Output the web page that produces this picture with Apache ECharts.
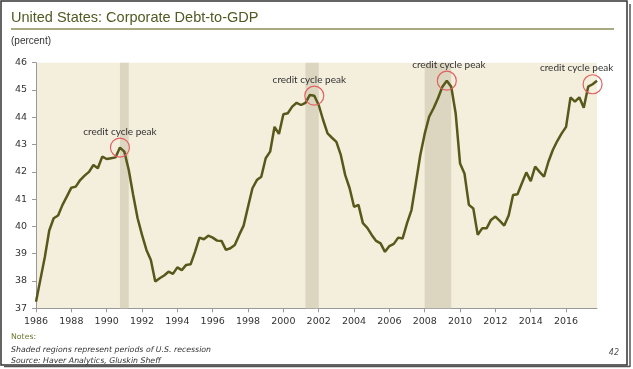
<!DOCTYPE html>
<html><head><meta charset="utf-8">
<script src="https://cdn.jsdelivr.net/npm/echarts@6/dist/echarts.min.js"></script>
<style>html,body{margin:0;padding:0;background:#fff}#c{width:633px;height:369px}</style>
</head><body><div id="c"></div>
<script>
// ---- data ----
const firstYear = 1986, lastYear = 2017;
const quarters = [];
for (let y = firstYear; y <= lastYear; y++) for (let q = 1; q <= 4; q++) quarters.push(y + 'Q' + q);

const debtToGdp = [
  37.24, 38.06, 38.88, 39.85,  // 1986
  40.30, 40.40, 40.79, 41.10,  // 1987
  41.42, 41.46, 41.70, 41.86,  // 1988
  42.00, 42.25, 42.13, 42.56,  // 1989
  42.47, 42.50, 42.53, 42.89,  // 1990
  42.74, 42.07, 41.15, 40.30,  // 1991
  39.69, 39.14, 38.77, 37.98,  // 1992
  38.10, 38.20, 38.34, 38.26,  // 1993
  38.50, 38.40, 38.59, 38.61,  // 1994
  39.07, 39.59, 39.53, 39.66,  // 1995
  39.59, 39.48, 39.47, 39.14,  // 1996
  39.20, 39.32, 39.69, 40.03,  // 1997
  40.72, 41.40, 41.70, 41.82,  // 1998
  42.50, 42.74, 43.65, 43.39,  // 1999
  44.11, 44.15, 44.39, 44.53,  // 2000
  44.45, 44.53, 44.82, 44.79,  // 2001
  44.45, 43.90, 43.41, 43.25,  // 2002
  43.10, 42.62, 41.88, 41.40,  // 2003
  40.72, 40.79, 40.12, 39.95,  // 2004
  39.69, 39.47, 39.38, 39.07,  // 2005
  39.28, 39.36, 39.59, 39.56,  // 2006
  40.12, 40.60, 41.60, 42.62,  // 2007
  43.40, 44.02, 44.33, 44.70,  // 2008
  45.12, 45.34, 45.12, 44.15,  // 2009
  42.31, 41.94, 40.79, 40.66,  // 2010
  39.69, 39.93, 39.93, 40.24,  // 2011
  40.36, 40.20, 40.03, 40.40,  // 2012
  41.15, 41.18, 41.58, 41.98,  // 2013
  41.66, 42.19, 42.00, 41.82,  // 2014
  42.37, 42.80, 43.13, 43.41,  // 2015
  43.65, 44.73, 44.57, 44.73,  // 2016
  44.35, 45.12, 45.21, 45.34   // 2017
];

const recessionStart = ['1990Q4', '2001Q2', '2008Q1'];
const recessionEnd   = ['1991Q2', '2002Q1', '2009Q3'];
const peakQuarters   = ['1990Q4', '2001Q4', '2009Q2', '2017Q3'];
const peakLabel = 'credit cycle peak';
const yMin = 37, yMax = 46, yStep = 1;

const titleText = 'United States: Corporate Debt-to-GDP';
const unitText = '(percent)';
const notesHead = 'Notes:';
const notesLines = ['Shaded regions represent periods of U.S. recession', 'Source: Haver Analytics, Gluskin Sheff'];
const pageNo = '42';

// ---- chart ----
const labelShift = [0, -5, 2, -16];
const chart = echarts.init(document.getElementById('c'), null, {renderer: 'canvas'});
const axisFont = {color: '#333', fontFamily: 'DejaVu Sans', fontSize: 9.5};

chart.setOption({
  animation: false,
  backgroundColor: '#fff',
  grid: {left: 36, right: 36, top: 62.7, bottom: 60.7, show: true, backgroundColor: '#f4eedd', borderWidth: 0},
  xAxis: {
    type: 'category', data: quarters, boundaryGap: false,
    axisLine: {lineStyle: {color: '#999', width: 1}},
    axisTick: {interval: 7, length: 4, lineStyle: {color: '#999'}},
    axisLabel: Object.assign({interval: 7, margin: 8, formatter: v => v.slice(0, 4)}, axisFont),
    splitLine: {show: false}
  },
  yAxis: {
    type: 'value', min: yMin, max: yMax, interval: yStep,
    axisLine: {show: true, lineStyle: {color: '#999', width: 1}},
    axisTick: {show: true, length: 4, lineStyle: {color: '#999'}},
    axisLabel: Object.assign({margin: 9}, axisFont),
    splitLine: {show: false}
  },
  series: [{
    type: 'line', data: debtToGdp, symbol: 'none', smooth: false,
    lineStyle: {color: '#58581a', width: 2.5},
    markArea: {
      silent: true,
      itemStyle: {color: '#dcd5c0'},
      data: recessionStart.map((s, i) => [{xAxis: s}, {xAxis: recessionEnd[i]}])
    },
    markPoint: {
      silent: true,
      symbol: 'circle', symbolSize: 19,
      itemStyle: {color: 'rgba(0,0,0,0)', borderColor: '#e06262', borderWidth: 1.2},
      label: {show: true, position: 'top', distance: 1, formatter: peakLabel, color: '#333', fontFamily: 'Lato', fontSize: 10},
      data: peakQuarters.map((q, i) => ({
        coord: [q, debtToGdp[quarters.indexOf(q)]],
        label: {offset: [labelShift[i], 0]}
      }))
    }
  }],
  graphic: [
    {type: 'rect', shape: {x: 1, y: 1, width: 626, height: 364}, style: {fill: 'none', stroke: '#333', lineWidth: 1.5}, silent: true},
    {type: 'line', shape: {x1: 630, y1: 4, x2: 630, y2: 367}, style: {stroke: '#555', lineWidth: 1.5}, silent: true},
    {type: 'line', shape: {x1: 4, y1: 366.5, x2: 630, y2: 366.5}, style: {stroke: '#555', lineWidth: 1.5}, silent: true},
    {type: 'text', x: 11, y: 17.5, style: {text: titleText, fill: '#4f5b22', font: '14.5px "Liberation Sans", Arial', textVerticalAlign: 'middle'}, silent: true},
    {type: 'line', shape: {x1: 11, y1: 29, x2: 614, y2: 29}, style: {stroke: '#8d8d58', lineWidth: 1.5}, silent: true},
    {type: 'text', x: 11, y: 41, style: {text: unitText, fill: '#333', font: '10px "Liberation Sans", Arial', textVerticalAlign: 'middle'}, silent: true},
    {type: 'text', x: 11, y: 337, style: {text: notesHead, fill: '#6b7530', font: '7.8px "DejaVu Sans"', textVerticalAlign: 'middle'}, silent: true},
    {type: 'text', x: 11, y: 349.5, style: {text: notesLines[0], fill: '#333', font: 'italic 7.8px "DejaVu Sans"', textVerticalAlign: 'middle'}, silent: true},
    {type: 'text', x: 11, y: 360.5, style: {text: notesLines[1], fill: '#333', font: 'italic 7.8px "DejaVu Sans"', textVerticalAlign: 'middle'}, silent: true},
    {type: 'text', x: 619, y: 353, style: {text: pageNo, fill: '#555', font: 'italic 8px "DejaVu Sans"', textAlign: 'right', textVerticalAlign: 'middle'}, silent: true}
  ]
});
</script>
</body></html>
